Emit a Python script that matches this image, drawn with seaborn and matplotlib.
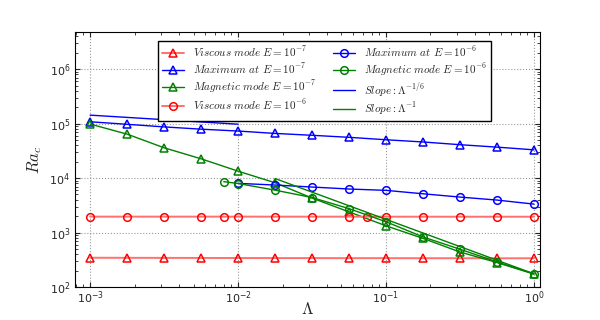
import matplotlib
matplotlib.use("Agg")
import matplotlib.pyplot as plt
import numpy as np
import pandas as pd
import seaborn as sns

# values
lam = [1e-3, 1.78e-3, 3.16e-3, 5.62e-3, 1e-2, 1.78e-2, 3.16e-2, 5.62e-2,
       0.1, 0.178, 0.316, 0.562, 1.0]
visc7 = [345, 344, 343, 342, 341, 340, 340, 339, 339, 338, 338, 337, 337]
max7 = [1.08e5, 9.7e4, 8.7e4, 7.9e4, 7.3e4, 6.6e4, 6.1e4, 5.6e4, 5.05e4,
        4.6e4, 4.1e4, 3.7e4, 3.3e4]
mag7 = [9.8e4, 6.4e4, 3.6e4, 2.26e4, 1.34e4, 8.2e3, 4.3e3, 2.4e3, 1.33e3,
        782, 440, 282, 173]

lam_visc6 = [1e-3, 1.78e-3, 3.16e-3, 5.62e-3, 8e-3, 1e-2, 1.78e-2, 3.16e-2,
             5.62e-2, 7.4e-2, 0.1, 0.178, 0.316, 0.562, 1.0]
visc6 = [1960, 1960, 1960, 1960, 1960, 1960, 1958, 1958, 1956, 1956, 1955,
         1955, 1954, 1954, 1953]

lam_max6 = [1e-2, 1.78e-2, 3.16e-2, 5.62e-2, 0.1, 0.178, 0.316, 0.562, 1.0]
max6 = [8.0e3, 7.45e3, 6.85e3, 6.3e3, 5.95e3, 5.15e3, 4.48e3, 3.95e3, 3.33e3]

lam_mag6 = [8e-3, 1e-2, 1.78e-2, 3.16e-2, 5.62e-2, 0.1, 0.178, 0.316, 0.562, 1.0]
mag6 = [8.6e3, 7.95e3, 6.0e3, 4.4e3, 2.75e3, 1.58e3, 830, 495, 290, 175]

slope6_x = [1e-3, 1e-2]
slope6_y = [1.43e5, 9.75e4]
slope1_x = [1.78e-2, 1.0]
slope1_y = [9.8e3, 175]

sns.set_style("ticks", {"xtick.direction": "in", "ytick.direction": "in"})
plt.rcParams["mathtext.fontset"] = "cm"
plt.rcParams["font.family"] = ["DejaVu Sans"]

fig, ax = plt.subplots(figsize=(6, 3.2), dpi=100)
fig.subplots_adjust(left=0.125, right=0.9, bottom=0.103, top=0.9)
ax.set_xscale("log")
ax.set_yscale("log")


def draw(x, y, color, marker, label, lw=1.0, linecolor=None):
    df = pd.DataFrame({"lam": x, "ra": y})
    kw = {}
    if marker:
        kw = dict(marker=marker, markersize=5.5, markerfacecolor="none",
                  markeredgecolor=color, markeredgewidth=1.1)
    sns.lineplot(data=df, x="lam", y="ra", color=linecolor or color, lw=lw,
                 label=label, ax=ax, **kw)


light_red = "#ff7070"
draw(lam, visc7, "red", "^", r"$Viscous\ mode\ E=10^{-7}$", lw=1.4, linecolor=light_red)
draw(lam, max7, "blue", "^", r"$Maximum\ at\ E=10^{-7}$")
draw(lam, mag7, "green", "^", r"$Magnetic\ mode\ E=10^{-7}$")
draw(lam_visc6, visc6, "red", "o", r"$Viscous\ mode\ E=10^{-6}$", lw=1.4, linecolor=light_red)
draw(lam_max6, max6, "blue", "o", r"$Maximum\ at\ E=10^{-6}$")
draw(lam_mag6, mag6, "green", "o", r"$Magnetic\ mode\ E=10^{-6}$")
draw(slope6_x, slope6_y, "blue", None, r"$Slope:\Lambda^{-1/6}$")
draw(slope1_x, slope1_y, "green", None, r"$Slope:\Lambda^{-1}$")

ax.set_xlim(7.9e-4, 1.1)
ax.set_ylim(1e2, 4.8e6)
ax.grid(True, which="major", linestyle=":", color="gray", alpha=0.8)
ax.tick_params(which="both", top=True, right=True, labelsize=8)
ax.tick_params(axis="x", which="major", pad=2)
for s in ax.spines.values():
    s.set_color("black")
ax.set_xlabel(r"$\Lambda$", fontsize=12)
ax.xaxis.set_label_coords(0.5, -0.05)
ax.set_ylabel(r"$Ra_c$", fontsize=12)

leg = ax.legend(ncol=2, loc="upper left", bbox_to_anchor=(0.179, 0.965),
                borderaxespad=0, fancybox=False, framealpha=1, edgecolor="black",
                fontsize=8, numpoints=1, handlelength=2, labelspacing=0.2,
                columnspacing=1.5, borderpad=0.35)
leg.get_frame().set_linewidth(1.0)

fig.savefig("out.png", dpi=100)
